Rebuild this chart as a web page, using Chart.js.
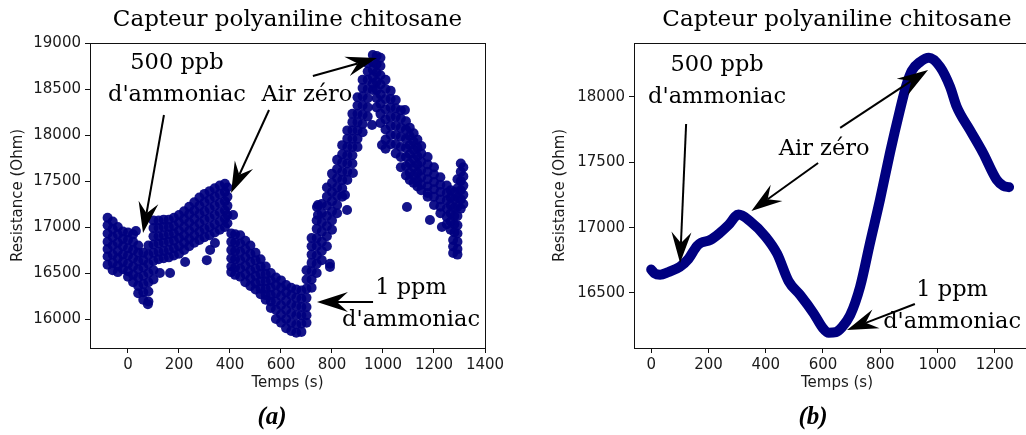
<!DOCTYPE html>
<html>
<head>
<meta charset="utf-8">
<script src="https://cdn.jsdelivr.net/npm/chart.js@4.4.0/dist/chart.umd.min.js"></script>
<style>
  html, body { margin: 0; padding: 0; background: #fff; overflow: hidden; width: 1026px; height: 435px; }
  .panel { position: absolute; top: 0; }
  #panelA { left: 0; }
  #panelB { left: 520px; }
</style>
</head>
<body>
<div class="panel" id="panelA"><canvas id="chartA" width="510" height="435"></canvas></div>
<div class="panel" id="panelB"><canvas id="chartB" width="530" height="435"></canvas></div>
<script>
// ====== Data (a) : raw scatter ======
const timeA = [-80, -60, -40, -20, 0, 20, 40, 60, 80, 100, 120, 140, 160, 180, 200, 220, 240, 260, 280, 300,
  320, 340, 360, 380, 390, 405, 420, 440, 460, 480, 500, 520, 540, 560, 580, 600, 620, 640, 660, 680,
  700, 720, 740, 760, 780, 800, 820, 840, 860, 880, 900, 920, 940, 960, 975, 990, 1010, 1030, 1050, 1070,
  1090, 1105, 1120, 1135, 1150, 1175, 1200, 1225, 1250, 1265, 1280, 1292, 1305, 1315];

const resA = [
  [17100, 17020, 16930, 16840, 16760, 16680, 16590],
  [17060, 16980, 16890, 16800, 16700, 16610, 16530],
  [17000, 16920, 16830, 16740, 16660, 16580, 16510],
  [16950, 16870, 16790, 16700, 16620, 16540],
  [16940, 16860, 16770, 16690, 16600, 16520, 16460],
  [16920, 16840, 16750, 16660, 16570, 16480, 16400],
  [16800, 16720, 16630, 16540, 16450, 16360, 16280],
  [16720, 16640, 16560, 16470, 16380, 16290, 16210],
  [16800, 16700, 16600, 16500, 16400, 16300, 16190],
  [17070, 16990, 16900, 16810, 16720, 16630, 16530, 16430],
  [17070, 16990, 16900, 16820, 16730, 16650],
  [17080, 17000, 16910, 16830, 16740, 16660],
  [17080, 17000, 16920, 16840, 16750, 16670],
  [17100, 17010, 16930, 16850, 16770, 16690],
  [17130, 17050, 16960, 16880, 16790, 16710],
  [17170, 17090, 17000, 16910, 16830, 16750],
  [17220, 17140, 17050, 16960, 16870, 16790],
  [17270, 17180, 17090, 17000, 16910, 16830],
  [17320, 17230, 17140, 17040, 16950, 16860],
  [17360, 17270, 17170, 17080, 16980, 16890],
  [17390, 17300, 17200, 17100, 17000, 16910],
  [17420, 17330, 17230, 17130, 17030, 16940],
  [17450, 17360, 17260, 17160, 17060, 16970],
  [17470, 17380, 17280, 17180, 17090, 17000],
  [17430, 17330, 17230, 17130, 17040],
  [16930, 16840, 16750, 16660, 16570, 16510],
  [16920, 16830, 16740, 16650, 16560, 16480],
  [16910, 16820, 16730, 16640, 16550, 16460],
  [16850, 16760, 16670, 16580, 16490, 16400],
  [16800, 16710, 16620, 16530, 16440, 16360],
  [16720, 16640, 16550, 16470, 16390, 16320],
  [16650, 16570, 16490, 16410, 16330, 16270],
  [16570, 16490, 16410, 16330, 16260, 16210],
  [16500, 16420, 16340, 16260, 16190, 16120],
  [16450, 16370, 16280, 16190, 16100, 16000],
  [16420, 16340, 16250, 16150, 16050, 15960],
  [16370, 16290, 16200, 16100, 16000, 15900],
  [16340, 16260, 16160, 16060, 15960, 15870],
  [16320, 16230, 16140, 16040, 15940, 15850],
  [16310, 16220, 16130, 16040, 15950, 15860],
  [16530, 16430, 16330, 16230, 16130, 16040, 15960],
  [16880, 16790, 16700, 16610, 16520, 16430, 16340],
  [17070, 16980, 16880, 16790, 16690, 16600, 16500],
  [17250, 17150, 17050, 16950, 16840, 16740, 16640],
  [17430, 17330, 17230, 17120, 17010, 16900, 16790],
  [17580, 17480, 17380, 17280, 17170, 17070, 16970],
  [17730, 17630, 17530, 17430, 17340, 17240, 17150],
  [17890, 17790, 17700, 17600, 17510, 17420, 17330],
  [18050, 17960, 17870, 17780, 17690, 17600, 17510],
  [18230, 18140, 18050, 17960, 17870, 17780, 17690],
  [18410, 18320, 18230, 18140, 18050, 17960, 17870],
  [18600, 18510, 18420, 18320, 18220, 18120, 18030],
  [18780, 18690, 18600, 18500, 18400, 18300, 18200],
  [18870, 18790, 18710, 18630, 18560, 18490],
  [18860, 18770, 18680, 18580, 18490, 18400, 18300],
  [18840, 18750, 18650, 18550, 18440, 18340, 18230, 18130],
  [18600, 18500, 18390, 18280, 18170, 18060, 17950, 17850],
  [18480, 18390, 18300, 18200, 18100, 18000, 17900],
  [18380, 18290, 18200, 18100, 18000, 17900, 17800],
  [18270, 18180, 18080, 17980, 17870, 17760, 17650],
  [18150, 18060, 17960, 17860, 17760, 17660, 17560],
  [18080, 17990, 17890, 17790, 17690, 17590, 17510],
  [18020, 17930, 17840, 17740, 17650, 17560, 17480],
  [17950, 17860, 17770, 17680, 17590, 17500, 17440],
  [17880, 17800, 17710, 17620, 17540, 17460, 17400],
  [17760, 17680, 17600, 17520, 17440, 17370, 17330],
  [17650, 17570, 17490, 17410, 17330, 17240],
  [17540, 17460, 17380, 17300, 17220, 17150],
  [17450, 17370, 17290, 17200, 17110, 17030],
  [17400, 17320, 17240, 17150, 17060, 16970],
  [17380, 17300, 17210, 17120, 17030, 16940],
  [17520, 17420, 17320, 17220, 17120, 17020, 16930, 16840, 16760, 16700],
  [17690, 17600, 17500, 17400, 17300, 17200],
  [17650, 17550, 17450, 17350, 17250]
];

// stray points away from the main band
const strayTimeA = [31, 78, 125, 165, 224, 309, 322, 341, 412, 741, 745, 745, 792, 792, 851, 859, 882, 957, 996, 1086, 1094, 1184, 1231, 1275, 1275, 1275];
const strayResA  = [16957, 16160, 16500, 16500, 16620, 16640, 16750, 16826, 17130, 17217, 17239, 17130, 16600, 16565, 17348, 17185, 17587, 18109, 17891, 18272, 17217, 17076, 17000, 16859, 16788, 16717];

const xTicksA = [0, 200, 400, 600, 800, 1000, 1200, 1400];
const yTicksA = [16000, 16500, 17000, 17500, 18000, 18500, 19000];

// ====== Data (b) : smoothed curve ======
const timeB = [0, 12, 31, 60, 100, 130, 160, 175, 206, 240, 270, 305, 345, 400, 440, 480, 520, 567, 600, 620,
  645, 665, 695, 730, 764, 799, 834, 869, 890, 910, 939, 970, 1009, 1044, 1067, 1113, 1159, 1207, 1230, 1250];
const resB = [16680, 16650, 16640, 16660, 16700, 16760, 16860, 16885, 16905, 16960, 17020, 17100, 17050, 16930, 16800, 16590, 16485, 16345, 16230, 16195,
  16200, 16235, 16330, 16550, 16880, 17212, 17572, 17901, 18080, 18200, 18268, 18300, 18230, 18077, 17926, 17748, 17572, 17365, 17320, 17310];

const xTicksB = [0, 200, 400, 600, 800, 1000, 1200];
const yTicksB = [16500, 17000, 17500, 18000];

const TITLE = "Capteur polyaniline chitosane";
const NAVY = "#000080";

// ====== Annotations (data coordinates) ======
const notesA = {
  texts: [
    { lines: ["500 ppb", "d'ammoniac"], x: 192, y: 18609 },
    { lines: ["Air zéro"], x: 702, y: 18435 },
    { lines: ["1 ppm", "d'ammoniac"], x: 1110, y: 16158 }
  ],
  arrows: [
    { from: [141, 18217], to: [59, 16935] },
    { from: [553, 18272], to: [404, 17370] },
    { from: [725, 18641], to: [976, 18837] },
    { from: [961, 16185], to: [741, 16185] }
  ],
  caption: "(a)", captionX: 272
};

const notesB = {
  texts: [
    { lines: ["500 ppb", "d'ammoniac"], x: 230, y: 18122 },
    { lines: ["Air zéro"], x: 604, y: 17602 },
    { lines: ["1 ppm", "d'ammoniac"], x: 1051, y: 16401 }
  ],
  arrows: [
    { from: [122, 17793], to: [101, 16730] },
    { from: [583, 17495], to: [350, 17128] },
    { from: [660, 17763], to: [967, 18207] },
    { from: [921, 16416], to: [684, 16217] }
  ],
  caption: "(b)", captionX: 293
};

// ====== Drawing helpers ======
function drawArrow(ctx, x1, y1, x2, y2) {
  const len = Math.hypot(x2 - x1, y2 - y1);
  const ux = (x2 - x1) / len, uy = (y2 - y1) / len;
  const px = -uy, py = ux;
  const headLen = 31, halfW = 10, notch = 20;
  ctx.beginPath();
  ctx.moveTo(x1, y1);
  ctx.lineTo(x2 - ux * notch, y2 - uy * notch);
  ctx.lineWidth = 2;
  ctx.stroke();
  const bx = x2 - ux * headLen, by = y2 - uy * headLen;
  ctx.beginPath();
  ctx.moveTo(x2, y2);
  ctx.lineTo(bx + px * halfW, by + py * halfW);
  ctx.lineTo(x2 - ux * notch, y2 - uy * notch);
  ctx.lineTo(bx - px * halfW, by - py * halfW);
  ctx.closePath();
  ctx.fill();
}

function decorPlugin(notes) {
  return {
    id: "decor",
    afterDatasetsDraw(chart) {
      const { ctx, scales } = chart;
      ctx.save();
      ctx.fillStyle = "#000";
      ctx.strokeStyle = "#000";
      ctx.textAlign = "center";
      ctx.textBaseline = "middle";
      ctx.font = '22.5px "DejaVu Serif"';
      notes.texts.forEach(t => {
        const cx = scales.x.getPixelForValue(t.x);
        const cy = scales.y.getPixelForValue(t.y);
        const top = cy - (t.lines.length - 1) * 16;
        t.lines.forEach((line, i) => ctx.fillText(line, cx, top + i * 32));
      });
      notes.arrows.forEach(a => {
        drawArrow(ctx,
          scales.x.getPixelForValue(a.from[0]), scales.y.getPixelForValue(a.from[1]),
          scales.x.getPixelForValue(a.to[0]), scales.y.getPixelForValue(a.to[1]));
      });
      ctx.restore();
    },
    afterDraw(chart) {
      const { ctx, chartArea } = chart;
      ctx.save();
      // frame
      ctx.strokeStyle = "#111";
      ctx.lineWidth = 1;
      ctx.strokeRect(chartArea.left + 0.5, chartArea.top + 0.5,
        chartArea.right - chartArea.left, chartArea.bottom - chartArea.top);
      // title
      ctx.fillStyle = "#000";
      ctx.textAlign = "center";
      ctx.textBaseline = "middle";
      ctx.font = '23px "DejaVu Serif"';
      ctx.fillText(TITLE, (chartArea.left + chartArea.right) / 2, 20);
      // caption
      ctx.font = 'italic bold 25px "Liberation Serif"';
      ctx.fillText(notes.caption, notes.captionX, 418);
      ctx.restore();
    }
  };
}

function axisOptions(ticks, min, max, title, fit, pad) {
  return {
    type: "linear",
    min: min,
    max: max,
    afterBuildTicks: scale => { scale.ticks = ticks.map(v => ({ value: v })); },
    afterFit: fit,
    grid: { drawOnChartArea: false, drawTicks: true, tickLength: 5, color: "#111" },
    border: { display: false },
    ticks: {
      callback: v => String(v),
      color: "#1a1a1a",
      padding: pad,
      maxRotation: 0,
      font: { family: "DejaVu Sans", size: 15 }
    },
    title: {
      display: true,
      text: title,
      color: "#1a1a1a",
      font: { family: "DejaVu Sans", size: 15 },
      padding: { top: 9, bottom: 3 }
    }
  };
}

// ====== Chart (a) ======
const scatterPoints = [];
timeA.forEach((t, i) => resA[i].forEach(r => scatterPoints.push({ x: t, y: r })));
strayTimeA.forEach((t, i) => scatterPoints.push({ x: t, y: strayResA[i] }));

new Chart(document.getElementById("chartA"), {
  type: "scatter",
  data: {
    datasets: [{
      data: scatterPoints,
      backgroundColor: "rgba(0,0,128,0.92)",
      borderWidth: 0,
      pointRadius: 5,
      pointHoverRadius: 5
    }]
  },
  options: {
    responsive: false,
    animation: false,
    events: [],
    layout: { padding: { left: 0, right: 25, top: 43, bottom: 40 } },
    plugins: { legend: { display: false }, tooltip: { enabled: false } },
    scales: {
      x: axisOptions(xTicksA, -149, 1400, "Temps (s)", s => { s.height = 47; }, 3),
      y: axisOptions(yTicksA, 15685, 19000, "Resistance (Ohm)", s => { s.width = 90; }, 4)
    }
  },
  plugins: [decorPlugin(notesA)]
});

// ====== Chart (b) ======
new Chart(document.getElementById("chartB"), {
  type: "line",
  data: {
    labels: timeB,
    datasets: [{
      data: timeB.map((t, i) => ({ x: t, y: resB[i] })),
      borderColor: NAVY,
      borderWidth: 10,
      borderCapStyle: "round",
      borderJoinStyle: "round",
      cubicInterpolationMode: "monotone",
      pointRadius: 0,
      fill: false
    }]
  },
  options: {
    responsive: false,
    animation: false,
    events: [],
    layout: { padding: { left: 22, right: 10, top: 43, bottom: 40 } },
    plugins: { legend: { display: false }, tooltip: { enabled: false } },
    scales: {
      x: axisOptions(xTicksB, -60, 1358, "Temps (s)", s => { s.height = 47; }, 3),
      y: axisOptions(yTicksB, 16079, 18413, "Resistance (Ohm)", s => { s.width = 92; }, 4)
    }
  },
  plugins: [decorPlugin(notesB)]
});
</script>
</body>
</html>
